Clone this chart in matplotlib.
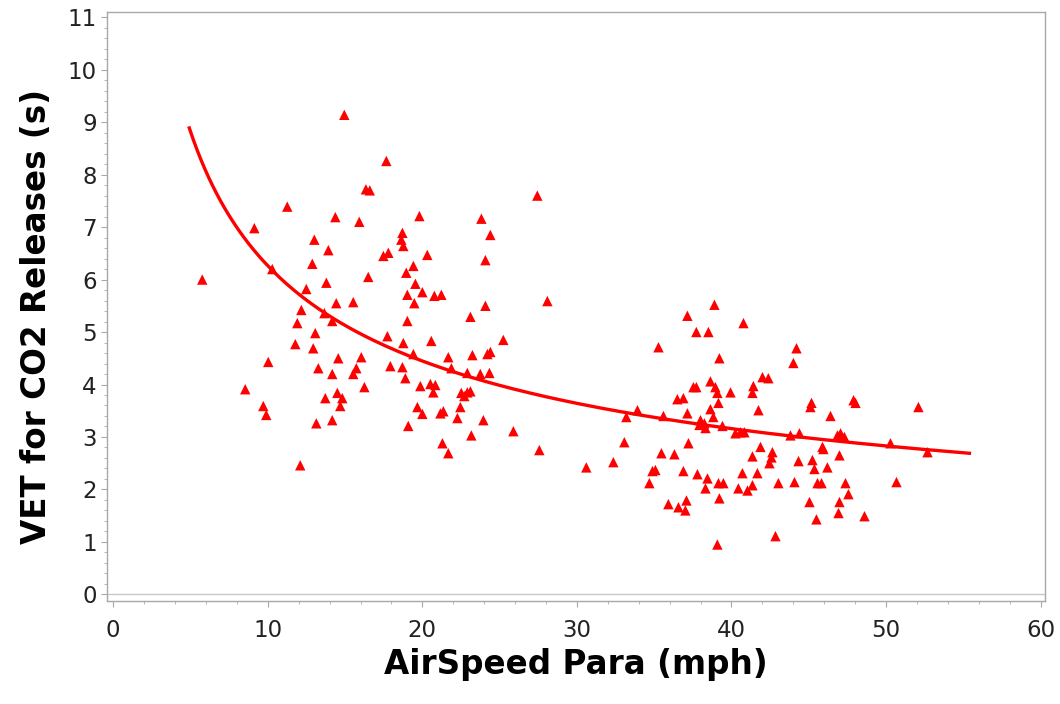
import numpy as np
import matplotlib.pyplot as plt
from matplotlib.ticker import MultipleLocator

# airspeed (mph) and VET for CO2 releases (s), one entry per release
airspeed = [
    5.76, 8.54, 9.13, 9.71, 9.90, 10.03, 10.29, 11.26, 11.78, 11.91,
    12.17, 12.10, 12.49, 12.88, 13.01, 12.94, 13.07, 13.27, 13.14, 13.72,
    13.66, 13.92, 13.79, 14.17, 14.17, 14.17, 14.37, 14.43, 14.56, 14.50,
    14.82, 14.69, 14.95, 15.53, 15.53, 15.73, 15.92, 16.05, 16.25, 16.35,
    16.60, 16.50, 17.67, 17.48, 17.80, 17.74, 17.93, 18.71, 18.64, 18.77,
    18.96, 19.42, 19.55, 20.00, 19.03, 20.78, 21.23, 19.48, 19.03, 18.77,
    20.58, 18.71, 18.90, 19.42, 19.81, 20.32, 19.87, 20.52, 20.84, 20.71,
    19.68, 20.00, 19.09, 21.17, 21.36, 21.30, 21.68, 21.68, 21.88, 22.27,
    22.46, 22.52, 22.72, 22.91, 23.11, 23.11, 23.24, 22.91, 23.17, 23.82,
    23.75, 24.34, 23.95, 24.08, 24.08, 24.40, 24.21, 24.40, 25.24, 25.89,
    27.44, 27.57, 28.09,
    30.61, 32.36, 33.07, 33.20, 33.92, 34.69, 34.89, 35.08, 35.28, 35.47,
    35.60, 35.92, 36.31, 36.50, 36.89, 36.57, 37.09, 37.02, 36.89, 37.15,
    37.15, 37.22, 37.54, 37.73, 37.73, 38.51, 37.80, 38.00, 38.25, 37.93,
    38.32, 38.45, 38.32, 38.64, 38.64, 38.83, 38.90, 38.96, 39.09, 39.16,
    39.22, 39.16, 39.48, 39.22, 39.09, 39.42, 39.94, 40.26, 40.58, 40.84,
    40.78, 40.71, 40.45, 41.04, 41.36, 41.42, 41.36, 41.36, 41.68, 41.75,
    41.88, 42.01, 42.39, 42.65, 42.59, 42.46, 42.85, 43.04, 43.82, 44.40,
    44.21, 44.01, 44.34, 44.08, 45.11, 45.18, 45.24, 45.37, 45.05, 45.50,
    45.57, 45.83, 45.89, 45.95, 46.21, 46.41, 46.86, 47.06, 47.31, 46.99,
    46.99, 46.93, 47.38, 47.57, 47.90, 48.03, 48.61, 50.29, 50.68, 52.10,
    52.69,
]
vet = [
    6.00, 3.91, 6.98, 3.59, 3.42, 4.43, 6.20, 7.39, 4.77, 5.17,
    5.42, 2.46, 5.82, 6.30, 6.76, 4.69, 4.98, 4.31, 3.26, 3.74,
    5.36, 6.56, 5.94, 5.21, 4.20, 3.32, 7.19, 5.55, 4.50, 3.84,
    3.74, 3.59, 9.14, 5.57, 4.20, 4.31, 7.10, 4.52, 3.95, 7.72,
    7.70, 6.05, 8.26, 6.45, 6.51, 4.92, 4.35, 6.89, 6.76, 6.64,
    6.13, 6.26, 5.92, 5.76, 5.71, 5.69, 5.71, 5.55, 5.21, 4.79,
    4.83, 4.33, 4.12, 4.58, 7.21, 6.47, 3.97, 4.01, 3.99, 3.85,
    3.57, 3.44, 3.21, 3.45, 3.49, 2.88, 2.69, 4.52, 4.31, 3.36,
    3.57, 3.84, 3.78, 3.85, 3.87, 5.29, 4.56, 4.22, 3.03, 7.16,
    4.20, 4.22, 3.32, 6.37, 5.50, 6.85, 4.58, 4.62, 4.85, 3.11,
    7.60, 2.75, 5.59,
    2.42, 2.52, 2.90, 3.38, 3.51, 2.12, 2.35, 2.37, 4.71, 2.69,
    3.40, 1.72, 2.67, 3.72, 3.74, 1.66, 1.79, 1.60, 2.35, 5.31,
    3.45, 2.88, 3.95, 3.95, 5.00, 5.00, 2.29, 3.32, 3.26, 3.23,
    3.17, 2.21, 2.02, 4.06, 3.53, 3.38, 5.52, 3.95, 3.84, 3.65,
    4.50, 2.12, 2.12, 1.83, 0.95, 3.21, 3.85, 3.07, 3.09, 3.09,
    5.17, 2.31, 2.02, 1.98, 2.63, 3.97, 3.84, 2.08, 2.31, 3.51,
    2.81, 4.14, 4.12, 2.71, 2.61, 2.50, 1.11, 2.12, 3.03, 3.07,
    4.69, 4.41, 2.54, 2.14, 3.57, 3.65, 2.56, 2.39, 1.76, 1.43,
    2.12, 2.12, 2.81, 2.77, 2.42, 3.40, 3.03, 3.07, 3.00, 2.65,
    1.76, 1.55, 2.12, 1.91, 3.70, 3.65, 1.49, 2.88, 2.14, 3.57,
    2.71,
]

# power-law trend line  VET = a * speed^b  over the plotted speed range
fit_a = 19.52
fit_b = -0.4937
fit_range = (4.92, 55.4)

x = np.array(airspeed)
y = np.array(vet)
xf = np.linspace(fit_range[0], fit_range[1], 200)
yf = fit_a * xf ** fit_b

fig = plt.figure(figsize=(10.6, 7.04), dpi=100)
ax = fig.add_axes([0.101, 0.146, 0.885, 0.837])

ax.axhline(0, color='#c8c8c8', lw=1.0, zorder=1)
ax.plot(xf, yf, color='#ff0000', lw=2.4, zorder=3)
ax.scatter(x, y, marker='^', s=56, color='#ff0000', edgecolors='none', zorder=4)

ax.set_xlim(-0.4, 60.3)
ax.set_ylim(-0.13, 11.1)
ax.xaxis.set_major_locator(MultipleLocator(10))
ax.xaxis.set_minor_locator(MultipleLocator(2))
ax.yaxis.set_major_locator(MultipleLocator(1))
ax.yaxis.set_minor_locator(MultipleLocator(0.2))

for s in ax.spines.values():
    s.set_color('#a8a8a8')
    s.set_linewidth(1.0)
ax.tick_params(which='major', length=4, color='#a8a8a8', labelsize=16.5,
               labelcolor='#222222', direction='out')
ax.tick_params(axis='x', which='major', pad=9)
ax.tick_params(which='minor', length=2, color='#a8a8a8', direction='out')

ax.set_xlabel('AirSpeed Para (mph)', fontsize=23.5, fontweight='bold', labelpad=4)
ax.set_ylabel('VET for CO2 Releases (s)', fontsize=23.5, fontweight='bold')
ax.yaxis.set_label_coords(-0.058, 0.484)

fig.savefig('out.png', dpi=100)
